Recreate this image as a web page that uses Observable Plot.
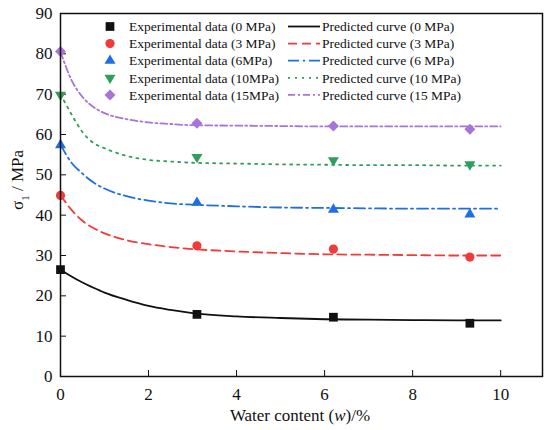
<!DOCTYPE html>
<html>
<head>
<meta charset="utf-8">
<script src="https://cdn.jsdelivr.net/npm/d3@7"></script>
<script src="https://cdn.jsdelivr.net/npm/@observablehq/plot@0.6"></script>
<style>
  html, body { margin: 0; padding: 0; background: #fff; }
  #chart svg { display: block; }
  #chart svg text { font-family: "Liberation Serif", "Times New Roman", serif !important; }
</style>
</head>
<body>
<div id="chart"></div>
<script>
// ---- data ----
const expX = [0, 3.1, 6.2, 9.3];
const exp0 = [26.5, 15.4, 14.7, 13.2];
const exp3 = [44.9, 32.4, 31.6, 29.6];
const exp6 = [57.4, 43.1, 41.4, 40.2];
const exp10 = [69.8, 54.4, 53.6, 52.6];
const exp15 = [80.6, 62.8, 62.1, 61.3];

const curveX = [0, 0.25, 0.5, 0.75, 1, 1.5, 2, 2.5, 3, 4, 5, 6, 7, 8, 9, 10];
const pred0 = [26.5, 24.8, 23.3, 22.0, 20.8, 19.0, 17.5, 16.5, 15.7, 14.9, 14.5, 14.2, 14.1, 14.0, 13.9, 13.9];
const pred3 = [45.0, 41.3, 38.6, 36.8, 35.5, 33.8, 32.8, 32.1, 31.6, 31.0, 30.6, 30.3, 30.2, 30.1, 30.0, 30.0];
const pred6 = [57.5, 53.0, 50.3, 48.1, 46.6, 44.7, 43.6, 42.9, 42.6, 42.2, 41.9, 41.8, 41.7, 41.6, 41.6, 41.6];
const pred10 = [70.0, 65.0, 60.6, 57.9, 56.6, 54.7, 53.7, 53.3, 53.0, 52.8, 52.6, 52.5, 52.4, 52.4, 52.3, 52.3];
const pred15 = [80.5, 73.5, 69.3, 66.8, 65.3, 63.8, 63.0, 62.6, 62.3, 62.2, 62.1, 62.0, 62.0, 62.0, 62.0, 62.0];

const expLabels = ["Experimental data (0 MPa)", "Experimental data (3 MPa)", "Experimental data (6MPa)", "Experimental data (10MPa)", "Experimental data (15MPa)"];
const predLabels = ["Predicted curve (0 MPa)", "Predicted curve (3 MPa)", "Predicted curve (6 MPa)", "Predicted curve (10 MPa)", "Predicted curve (15 MPa)"];

const xTicks = [0, 2, 4, 6, 8, 10];
const yTicks = [0, 10, 20, 30, 40, 50, 60, 70, 80, 90];

// ---- styles ----
const font = "Liberation Serif";
const colors = ["#111111", "#ef3b3b", "#1f6fe3", "#2f9e5c", "#a874d8"];
const dashes = [null, "9,5", "11,4,2,4", "2,5", "7,3,2,3"];

const sym = {
  square: {draw(c, s) { const r = Math.sqrt(s / Math.PI) * 0.95; c.rect(-r, -r, 2 * r, 2 * r); }},
  circle: {draw(c, s) { const r = Math.sqrt(s / Math.PI); c.moveTo(r, 0); c.arc(0, 0, r, 0, 2 * Math.PI); }},
  triUp: {draw(c, s) { const r = Math.sqrt(s / Math.PI); const w = 1.2 * r, h = 2.05 * r;
    c.moveTo(0, -h * 2 / 3); c.lineTo(w, h / 3); c.lineTo(-w, h / 3); c.closePath(); }},
  triDown: {draw(c, s) { const r = Math.sqrt(s / Math.PI); const w = 1.2 * r, h = 2.05 * r;
    c.moveTo(0, h * 2 / 3); c.lineTo(w, -h / 3); c.lineTo(-w, -h / 3); c.closePath(); }},
  diamond: {draw(c, s) { const r = Math.sqrt(s / Math.PI) * 1.2;
    c.moveTo(0, -r); c.lineTo(r, 0); c.lineTo(0, r); c.lineTo(-r, 0); c.closePath(); }}
};
const symbols = [sym.square, sym.circle, sym.triUp, sym.triDown, sym.diamond];

const exps = [exp0, exp3, exp6, exp10, exp15];
const preds = [pred0, pred3, pred6, pred10, pred15];

const marks = [];
preds.forEach((p, i) => {
  const rows = curveX.map((x, j) => ({x, y: p[j]}));
  marks.push(Plot.line(rows, {x: "x", y: "y", curve: "monotone-x", stroke: colors[i], strokeWidth: 1.8,
    strokeDasharray: dashes[i] || undefined}));
});
exps.forEach((e, i) => {
  const rows = expX.map((x, j) => ({x, y: e[j]}));
  marks.push(Plot.dot(rows, {x: "x", y: "y", r: 4.6, symbol: symbols[i], fill: colors[i], stroke: "none"}));
});

const plot = Plot.plot({
  width: 550,
  height: 430,
  marginLeft: 60,
  marginRight: 8,
  marginTop: 13,
  marginBottom: 54,
  style: {fontFamily: font, fontSize: "17px", color: "#111", background: "#fff"},
  x: {domain: [0, 10.95]},
  y: {domain: [0, 90]},
  marks: [
    Plot.axisX({ticks: xTicks, tickSize: -6, tickPadding: 17, label: null, fontFamily: font, fontSize: 17, stroke: "#111", fill: "#111"}),
    Plot.axisY({ticks: yTicks, tickSize: -6, tickPadding: 14, label: null, fontFamily: font, fontSize: 17, stroke: "#111", fill: "#111"}),
    ...marks,
    Plot.frame({stroke: "#111", strokeWidth: 1.5})
  ]
});
document.getElementById("chart").appendChild(plot);

// ---- axis titles and legend ----
const svg = d3.select(plot);

const yl = svg.append("text")
  .attr("transform", "translate(23,180) rotate(-90)")
  .attr("text-anchor", "middle")
  .attr("font-family", font).attr("font-size", 17).attr("fill", "#111");
yl.append("tspan").text("σ");
yl.append("tspan").attr("baseline-shift", "sub").attr("font-size", 11).text("1");
yl.append("tspan").text(" / MPa");

const xl = svg.append("text")
  .attr("x", 300).attr("y", 421)
  .attr("text-anchor", "middle")
  .attr("font-family", font).attr("font-size", 17).attr("fill", "#111");
xl.append("tspan").text("Water content (");
xl.append("tspan").attr("font-style", "italic").text("w");
xl.append("tspan").text(")/%");

const lg = svg.append("g").attr("font-family", font).attr("font-size", 13.5)
  .attr("fill", "#111").attr("text-anchor", "start");
const rowY = (i) => 26.5 + i * 17.1;
const symPath = (s, size) => { const p = d3.path(); s.draw(p, size); return p.toString(); };
for (let i = 0; i < 5; i++) {
  const y = rowY(i);
  lg.append("path").attr("transform", `translate(110,${y})`)
    .attr("d", symPath(symbols[i], Math.PI * 4.6 * 4.6)).attr("fill", colors[i]);
  lg.append("text").attr("x", 129).attr("y", y).attr("dy", "0.35em").text(expLabels[i]);
  lg.append("line").attr("x1", 288).attr("x2", 320).attr("y1", y).attr("y2", y)
    .attr("stroke", colors[i]).attr("stroke-width", 1.8)
    .attr("stroke-dasharray", dashes[i]);
  lg.append("text").attr("x", 322).attr("y", y).attr("dy", "0.35em").text(predLabels[i]);
}
</script>
</body>
</html>
